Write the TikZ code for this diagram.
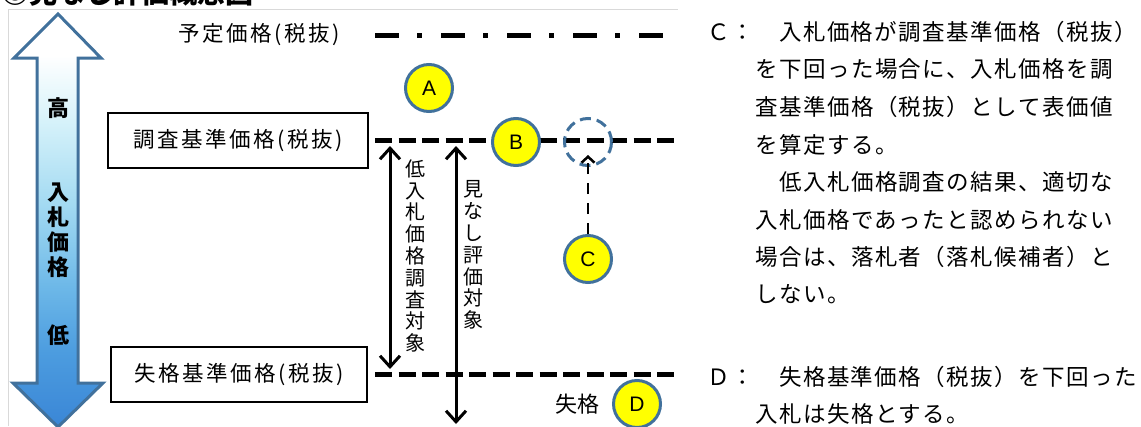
\documentclass[tikz,border=0pt]{standalone}
\usepackage{fontspec}
\setmainfont{Noto Sans CJK JP}
\newfontfamily\jpsp[LetterSpace=6.5]{Noto Sans CJK JP}
\newfontfamily\jpmid[LetterSpace=12]{Noto Sans CJK JP}
\newfontfamily\lat{Liberation Sans}
\usetikzlibrary{arrows.meta}
\definecolor{framegray}{HTML}{D9D9D9}
\definecolor{bord}{HTML}{41719C}
\definecolor{circfill}{HTML}{FFFF00}
\definecolor{sA}{HTML}{3A86D6}
\definecolor{sB}{HTML}{4C9CDF}
\definecolor{sC}{HTML}{6DB8E8}
\definecolor{sD}{HTML}{A3DAF2}
\definecolor{sE}{HTML}{D6F2FA}
\pgfdeclareverticalshading{bigarrow}{100bp}{color(0bp)=(sA); color(25bp)=(sA); color(34bp)=(sB); color(42bp)=(sC); color(52bp)=(sD); color(62bp)=(sE); color(70bp)=(white); color(100bp)=(white)}
\tikzset{
  letter/.style={circle, draw=bord, line width=3pt, fill=circfill, minimum size=47pt, inner sep=0pt, font=\lat\fontsize{21}{21}\selectfont},
  ghost/.style={circle, draw=bord, line width=3pt, dash pattern=on 11pt off 6pt, minimum size=47pt, inner sep=0pt},
  pricebox/.style={draw, line width=2pt, minimum height=55pt, inner sep=0pt, font=\jpmid\fontsize{21.5}{21.5}\selectfont},
  level/.style={line width=5pt, dash pattern=on 17pt off 6.5pt},
  plan/.style={line width=5pt, dash pattern=on 24pt off 18pt on 5pt off 19pt},
  span/.style={line width=3pt, {Straight Barb[length=11pt,width=20pt]}-{Straight Barb[length=11pt,width=20pt]}},
  vlabel/.style={align=center, inner sep=0pt, font=\fontsize{20}{21.8}\selectfont},
  biglabel/.style={align=center, inner sep=0pt, font=\bfseries\fontsize{22}{25}\selectfont},
  body/.style={anchor=west, inner sep=0pt, font=\jpsp\fontsize{22.5}{22.5}\selectfont},
}
\begin{document}
\begin{tikzpicture}[x=1pt,y=-1pt]
\useasboundingbox (0,0) rectangle (1141,426);
% cut-off title and frame
\node[anchor=base west, inner sep=0pt, font=\bfseries\fontsize{28}{28}\selectfont] (title) at (1,3) {◎見なし評価概念図};
\coordinate (f1) at (8,426); \coordinate (f2) at (8,9.5); \coordinate (f3) at (678,9.5);
\draw[framegray, line width=1pt] (f1) -- (f2) -- (f3);
% big arrow
\shadedraw[shading=bigarrow, draw=bord, line width=3pt, line join=miter]
  (58,14) -- (101,58) -- (78,58) -- (78,383) -- (103,383) -- (58,427) -- (13,383) -- (37,383) -- (37,58) -- (14,58) -- cycle;
\node[biglabel] (hi) at (58,108) {高};
\node[biglabel] (bid) at (58,230) {入\\札\\価\\格};
\node[biglabel] (lo) at (58,335) {低};
% plan price
\node[inner sep=0pt, font=\jpmid\fontsize{21.5}{21.5}\selectfont] (yotei) at (259,35) {予定価格(税抜)};
\coordinate (pL) at (375,35); \coordinate (pR) at (664,35);
\draw[plan] (pL) -- (pR);
% boxes
\node[pricebox, minimum width=260pt] (chosa) at (238,140.5) {調査基準価格(税抜)};
\node[pricebox, minimum width=256pt] (shik) at (239,374.5) {失格基準価格(税抜)};
\coordinate (cL) at (375,140); \coordinate (cR) at (676,140);
\coordinate (sL) at (375,374); \coordinate (sR) at (676,374);
\draw[level] (cL) -- (cR);
\draw[level] (sL) -- (sR);
% spans
\coordinate (a1t) at (390,146); \coordinate (a1b) at (390,369);
\coordinate (a2t) at (456,146); \coordinate (a2b) at (456,424);
\draw[span] (a1t) -- (a1b);
\draw[span] (a2t) -- (a2b);
\node[vlabel] (lowlab) at (415,256) {低\\入\\札\\価\\格\\調\\査\\対\\象};
\node[vlabel] (minlab) at (473,255) {見\\な\\し\\評\\価\\対\\象};
% circles
\node[letter] (A) at (429,88) {A};
\node[ghost] (G) at (588,142) {};
\node[letter] (B) at (516,142) {B};
\node[letter] (C) at (588,259) {C};
\node[letter] (D) at (637,404) {D};
\coordinate (ctip) at (588,155);
\draw[line width=2.5pt, dash pattern=on 11pt off 9pt, -{Straight Barb[length=6pt,width=13pt]}] (C) -- (ctip);
\node[inner sep=0pt, font=\fontsize{22}{22}\selectfont] (fail) at (577,404) {失格};
% right text
\node[body] (t1) at (707,32) {Ｃ：　入札価格が調査基準価格（税抜）};
\node[body] (t2) at (755,69.5) {を下回った場合に、入札価格を調};
\node[body] (t3) at (755,107) {査基準価格（税抜）として表価値};
\node[body] (t4) at (755,144.5) {を算定する。};
\node[body] (t5) at (755,182) {　低入札価格調査の結果、適切な};
\node[body] (t6) at (755,219.5) {入札価格であったと認められない};
\node[body] (t7) at (755,257) {場合は、落札者（落札候補者）と};
\node[body] (t8) at (755,294.5) {しない。};
\node[body] (t9) at (707,377) {Ｄ：　失格基準価格（税抜）を下回った};
\node[body] (t10) at (755,414) {入札は失格とする。};
\end{tikzpicture}
\end{document}
